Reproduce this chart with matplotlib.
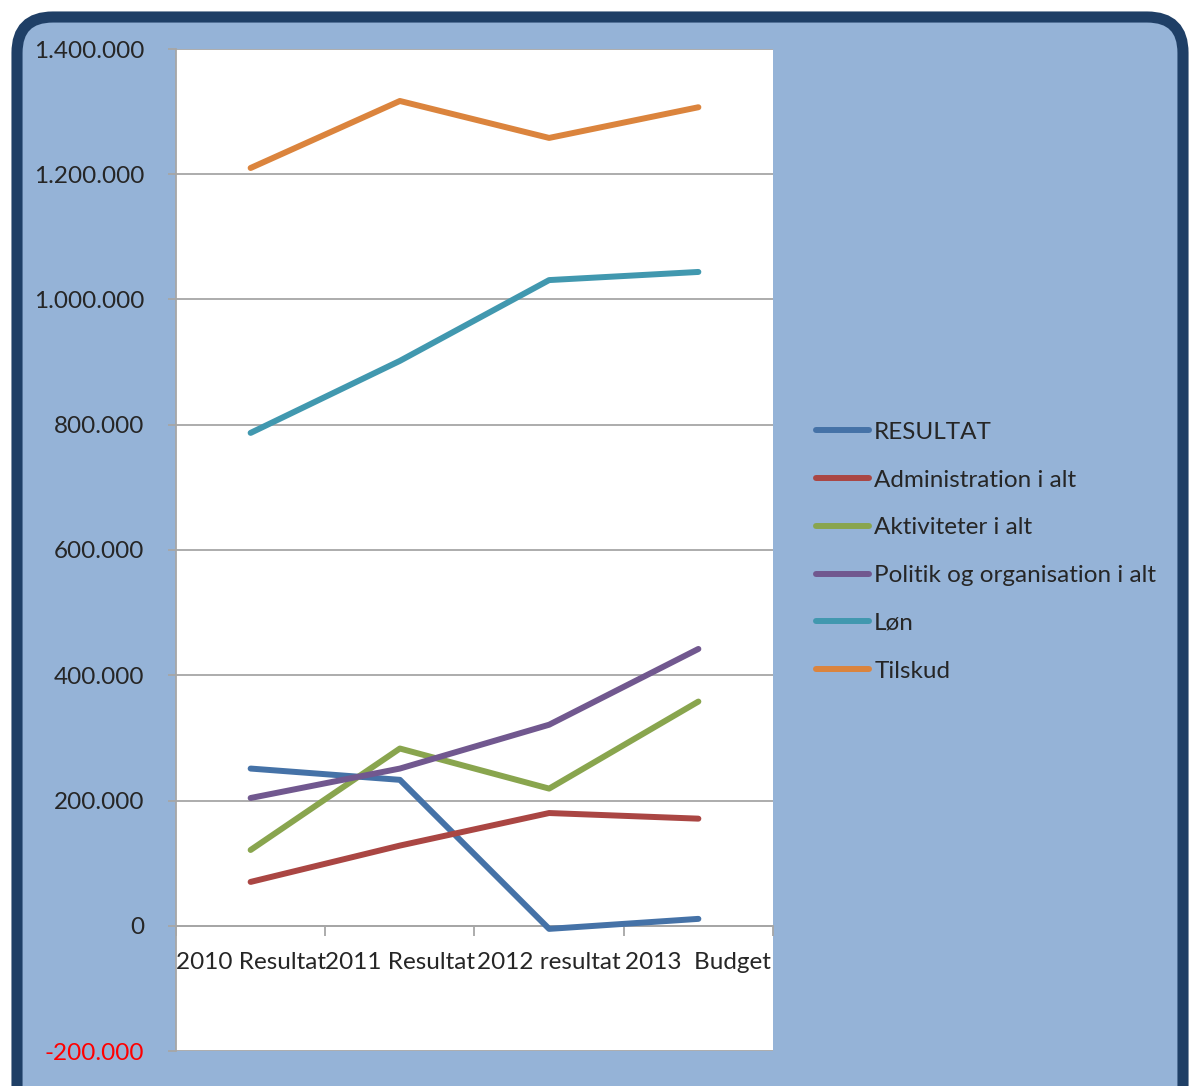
import matplotlib.pyplot as plt
from matplotlib.patches import FancyBboxPatch
from matplotlib.lines import Line2D

# Data
categories = ["2010 Resultat", "2011 Resultat", "2012 resultat", "2013  Budget"]
resultat = [251000, 233000, -5000, 11000]
administration = [70000, 128000, 180000, 171000]
aktiviteter = [121000, 283000, 219000, 358000]
politik = [204000, 251000, 321000, 442000]
loen = [787000, 902000, 1031000, 1044000]
tilskud = [1210000, 1317000, 1258000, 1307000]

series = [
    ("RESULTAT", resultat, "#4572A7"),
    ("Administration i alt", administration, "#AA4643"),
    ("Aktiviteter i alt", aktiviteter, "#89A54E"),
    ("Politik og organisation i alt", politik, "#71588F"),
    ("Løn", loen, "#4198AF"),
    ("Tilskud", tilskud, "#DB843D"),
]

plt.rcParams['font.family'] = ['Lato', 'DejaVu Sans']
fs = 17.5
txt = "#262626"
grid = "#A6A6A6"

fig = plt.figure(figsize=(11.95, 10.86), dpi=100)
fig.patch.set_facecolor("white")

# rounded background frame
W, H = 1195, 1086
frame = FancyBboxPatch((17 / W, -40 / H), (W - 29) / W, (H + 40 - 17) / H,
                       boxstyle="round,pad=0,rounding_size=0.03",
                       transform=fig.transFigure, facecolor="#95B3D7",
                       edgecolor="#1F3F66", linewidth=8, zorder=-10,
                       mutation_aspect=W / H)
fig.patches.append(frame)

ax = fig.add_axes([176 / W, 1 - 1051 / H, (773 - 176) / W, (1051 - 49) / H])
ax.set_zorder(1)
ax.set_facecolor("white")

x = [i + 0.5 for i in range(len(categories))]
for name, vals, col in series:
    ax.plot(x, vals, color=col, lw=4.3, solid_capstyle="round",
            solid_joinstyle="round", label=name, zorder=3)

ax.set_xlim(0, 4)
ax.set_ylim(-200000, 1400000)
yt = list(range(-200000, 1400001, 200000))
ax.set_yticks(yt)
ax.set_yticklabels([f"{v:,}".replace(",", ".") if v != 0 else "0" for v in yt],
                   fontsize=fs, color=txt)
ax.get_yticklabels()[0].set_color("#FF0000")
ax.tick_params(axis="y", length=6, color=grid, width=1.3, pad=17)
ax.grid(axis="y", color=grid, lw=1.3, zorder=1)

for s in ["top", "right"]:
    ax.spines[s].set_visible(False)
ax.spines["left"].set_color(grid)
ax.spines["left"].set_linewidth(1.3)
ax.spines["bottom"].set_position(("data", 0))
ax.spines["bottom"].set_color(grid)
ax.spines["bottom"].set_linewidth(1.3)

ax.set_xticks([0, 1, 2, 3, 4])
ax.set_xticklabels([])
ax.tick_params(axis="x", which="major", length=7, color=grid, width=1.3)
ax.set_xticks(x, minor=True)
ax.set_xticklabels(categories, minor=True, fontsize=fs, color=txt)
ax.tick_params(axis="x", which="minor", length=0, pad=19)

handles = [Line2D([], [], color=c, lw=4.3, solid_capstyle="round") for _, _, c in series]
fig.legend(handles, [n for n, _, _ in series], loc="upper left",
           bbox_to_anchor=(794 / W, 1 - 400 / H), frameon=False,
           fontsize=fs, labelcolor=txt, handlelength=2.2, handletextpad=0.2,
           labelspacing=1.1)

fig.savefig("out.png", dpi=100, facecolor=fig.get_facecolor())
